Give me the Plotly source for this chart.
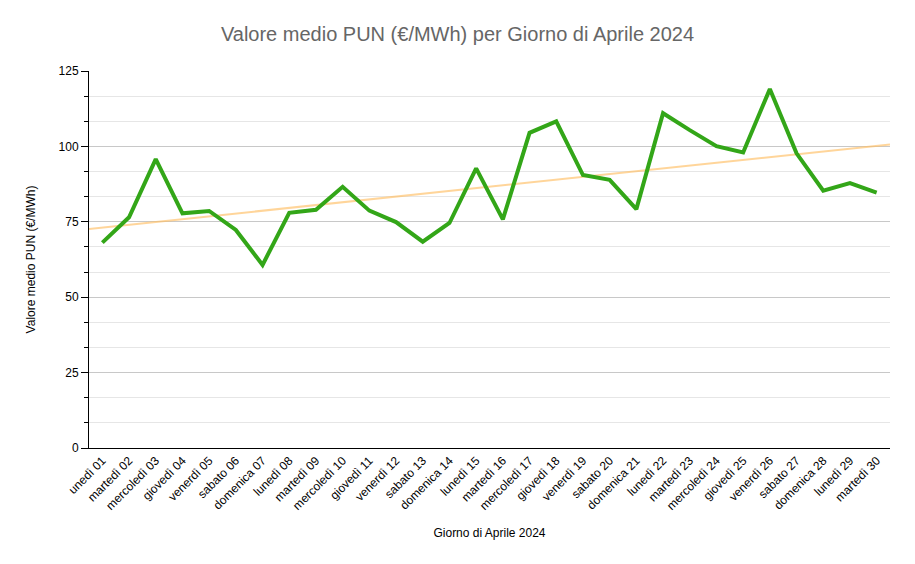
import numpy as np
import plotly.graph_objects as go

giorni = ["unedì 01", "martedì 02", "mercoledì 03", "giovedì 04", "venerdì 05", "sabato 06",
          "domenica 07", "lunedì 08", "martedì 09", "mercoledì 10", "giovedì 11", "venerdì 12",
          "sabato 13", "domenica 14", "lunedì 15", "martedì 16", "mercoledì 17", "giovedì 18",
          "venerdì 19", "sabato 20", "domenica 21", "lunedì 22", "martedì 23", "mercoledì 24",
          "giovedì 25", "venerdì 26", "sabato 27", "domenica 28", "lunedì 29", "martedì 30"]
pun = [68.1, 76.5, 95.8, 77.8, 78.6, 72.3, 60.7, 78.0, 79.0, 86.6,
       78.7, 74.9, 68.4, 74.6, 92.7, 75.8, 104.5, 108.3, 90.5, 88.9,
       79.2, 111.0, 105.4, 100.1, 98.0, 119.0, 97.7, 85.3, 87.8, 84.7]

x = np.arange(len(giorni))
slope, intercept = np.polyfit(x, pun, 1)
tx = np.array([-0.5, len(giorni) - 0.5])
ty = slope * tx + intercept

font = "Liberation Sans, Arial, sans-serif"
fig = go.Figure()
fig.add_trace(go.Scatter(x=tx, y=ty, mode="lines",
                         line=dict(color="rgba(255,190,100,0.65)", width=2),
                         hoverinfo="skip", showlegend=False))
fig.add_trace(go.Scatter(x=x, y=pun, mode="lines",
                         line=dict(color="#33a618", width=4),
                         showlegend=False))

fig.update_layout(
    width=915, height=564,
    margin=dict(l=89, r=25, t=71, b=116),
    paper_bgcolor="white", plot_bgcolor="white",
    font=dict(family=font, color="#000", size=12),
    title=dict(text="Valore medio PUN (€/MWh) per Giorno di Aprile 2024",
               x=0.5, xanchor="center", y=0.94, yanchor="middle",
               font=dict(family=font, size=20, color="#666")),
)
fig.update_xaxes(
    range=[-0.5, len(giorni) - 0.5],
    tickmode="array", tickvals=x, ticktext=giorni, tickangle=-45,
    showgrid=False, zeroline=False,
    showline=True, linecolor="#000", linewidth=1,
    ticks="", tickfont=dict(size=12, color="#000"),
    title=dict(text="Giorno di Aprile 2024", font=dict(size=12, color="#000"), standoff=16),
)
fig.update_yaxes(
    range=[0, 125], tick0=0, dtick=25,
    showgrid=True, gridcolor="#c8c8c8", gridwidth=1,
    zeroline=False,
    showline=True, linecolor="#000", linewidth=1,
    ticks="outside", ticklen=7, tickcolor="#000",
    tickfont=dict(size=12, color="#000"),
    minor=dict(dtick=25 / 3, tick0=0, showgrid=True, gridcolor="#e6e6e6",
               ticks="outside", ticklen=4, tickcolor="#000"),
    title=dict(text="Valore medio PUN (€/MWh)", font=dict(size=12, color="#000"), standoff=20),
)
fig.write_html("out.html")
